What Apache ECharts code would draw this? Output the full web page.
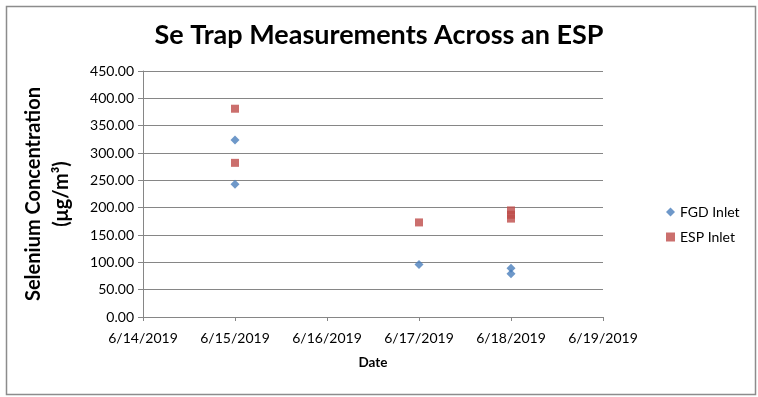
<!DOCTYPE html>
<html>
<head>
<meta charset="utf-8">
<script src="https://cdn.jsdelivr.net/npm/echarts@6/dist/echarts.min.js"></script>
<style>html,body{margin:0;padding:0;background:#fff}#c{width:758px;height:397px}</style>
</head>
<body>
<div id="c"></div>
<script>
const titleText = 'Se Trap Measurements Across an ESP';
const yAxisTitle = 'Selenium Concentration\n(μg/m³)';
const xAxisTitle = 'Date';
const fgdDates = ['2019-06-15', '2019-06-15', '2019-06-17', '2019-06-18', '2019-06-18'];
const fgdValues = [324, 243, 96, 89, 79];
const espDates = ['2019-06-15', '2019-06-15', '2019-06-17', '2019-06-18', '2019-06-18', '2019-06-18'];
const espValues = [381, 282, 173, 195, 187, 180];
const xMinDate = '2019-06-14';
const xMaxDate = '2019-06-19';
const yMin = 0, yMax = 450, yStep = 50;
const seriesNames = ['FGD Inlet', 'ESP Inlet'];

const DAY = 86400000;
function ts(s) { const p = s.split('-'); return Date.UTC(+p[0], +p[1] - 1, +p[2]); }
function fmtDate(v) { const d = new Date(v); return (d.getUTCMonth() + 1) + '/' + d.getUTCDate() + '/' + d.getUTCFullYear(); }

const font = 'Lato, "Open Sans", sans-serif';
const chart = echarts.init(document.getElementById('c'));
chart.setOption({
  animation: false,
  textStyle: { fontFamily: font },
  graphic: [{
    type: 'rect', left: 4, top: 4,
    shape: { width: 749, height: 388 },
    style: { fill: 'none', stroke: '#8c8c8c', lineWidth: 1.5 }
  }],
  title: {
    text: titleText, left: 'center', top: 17,
    textStyle: { fontFamily: font, fontSize: 27, fontWeight: 'bold', color: '#000' }
  },
  legend: {
    orient: 'vertical', left: 661, top: 200, itemGap: 11,
    itemWidth: 9, itemHeight: 9,
    textStyle: { fontFamily: font, fontSize: 14, color: '#000' },
    data: seriesNames
  },
  grid: { left: 143, right: 155, top: 71, bottom: 80 },
  xAxis: {
    type: 'value', min: ts(xMinDate), max: ts(xMaxDate), interval: DAY,
    name: xAxisTitle, nameLocation: 'middle', nameGap: 39,
    nameTextStyle: { fontFamily: font, fontSize: 13.5, fontWeight: 'bold', color: '#000' },
    axisLine: { lineStyle: { color: '#868686' } },
    axisTick: { show: true, length: 4, lineStyle: { color: '#868686' } },
    splitLine: { show: false },
    axisLabel: { formatter: fmtDate, fontFamily: font, fontSize: 14, color: '#000', margin: 14 }
  },
  yAxis: {
    type: 'value', min: yMin, max: yMax, interval: yStep,
    name: yAxisTitle, nameLocation: 'middle', nameGap: 67, nameRotate: 90,
    nameTextStyle: { fontFamily: font, fontSize: 20, fontWeight: 'bold', color: '#000', lineHeight: 28 },
    axisLine: { show: true, lineStyle: { color: '#868686' } },
    axisTick: { show: true, length: 5, lineStyle: { color: '#868686' } },
    splitLine: { show: true, lineStyle: { color: '#868686', width: 1 } },
    axisLabel: { formatter: v => v.toFixed(2), fontFamily: font, fontSize: 14, color: '#000', margin: 9 }
  },
  series: [
    {
      name: seriesNames[0], type: 'scatter', symbol: 'diamond', symbolSize: 9,
      itemStyle: { color: '#4a7ebb' },
      data: fgdDates.map((d, i) => [ts(d), fgdValues[i]])
    },
    {
      name: seriesNames[1], type: 'scatter', symbol: 'rect', symbolSize: 8,
      itemStyle: { color: '#be4b48' },
      data: espDates.map((d, i) => [ts(d), espValues[i]])
    }
  ]
});
</script>
</body>
</html>
